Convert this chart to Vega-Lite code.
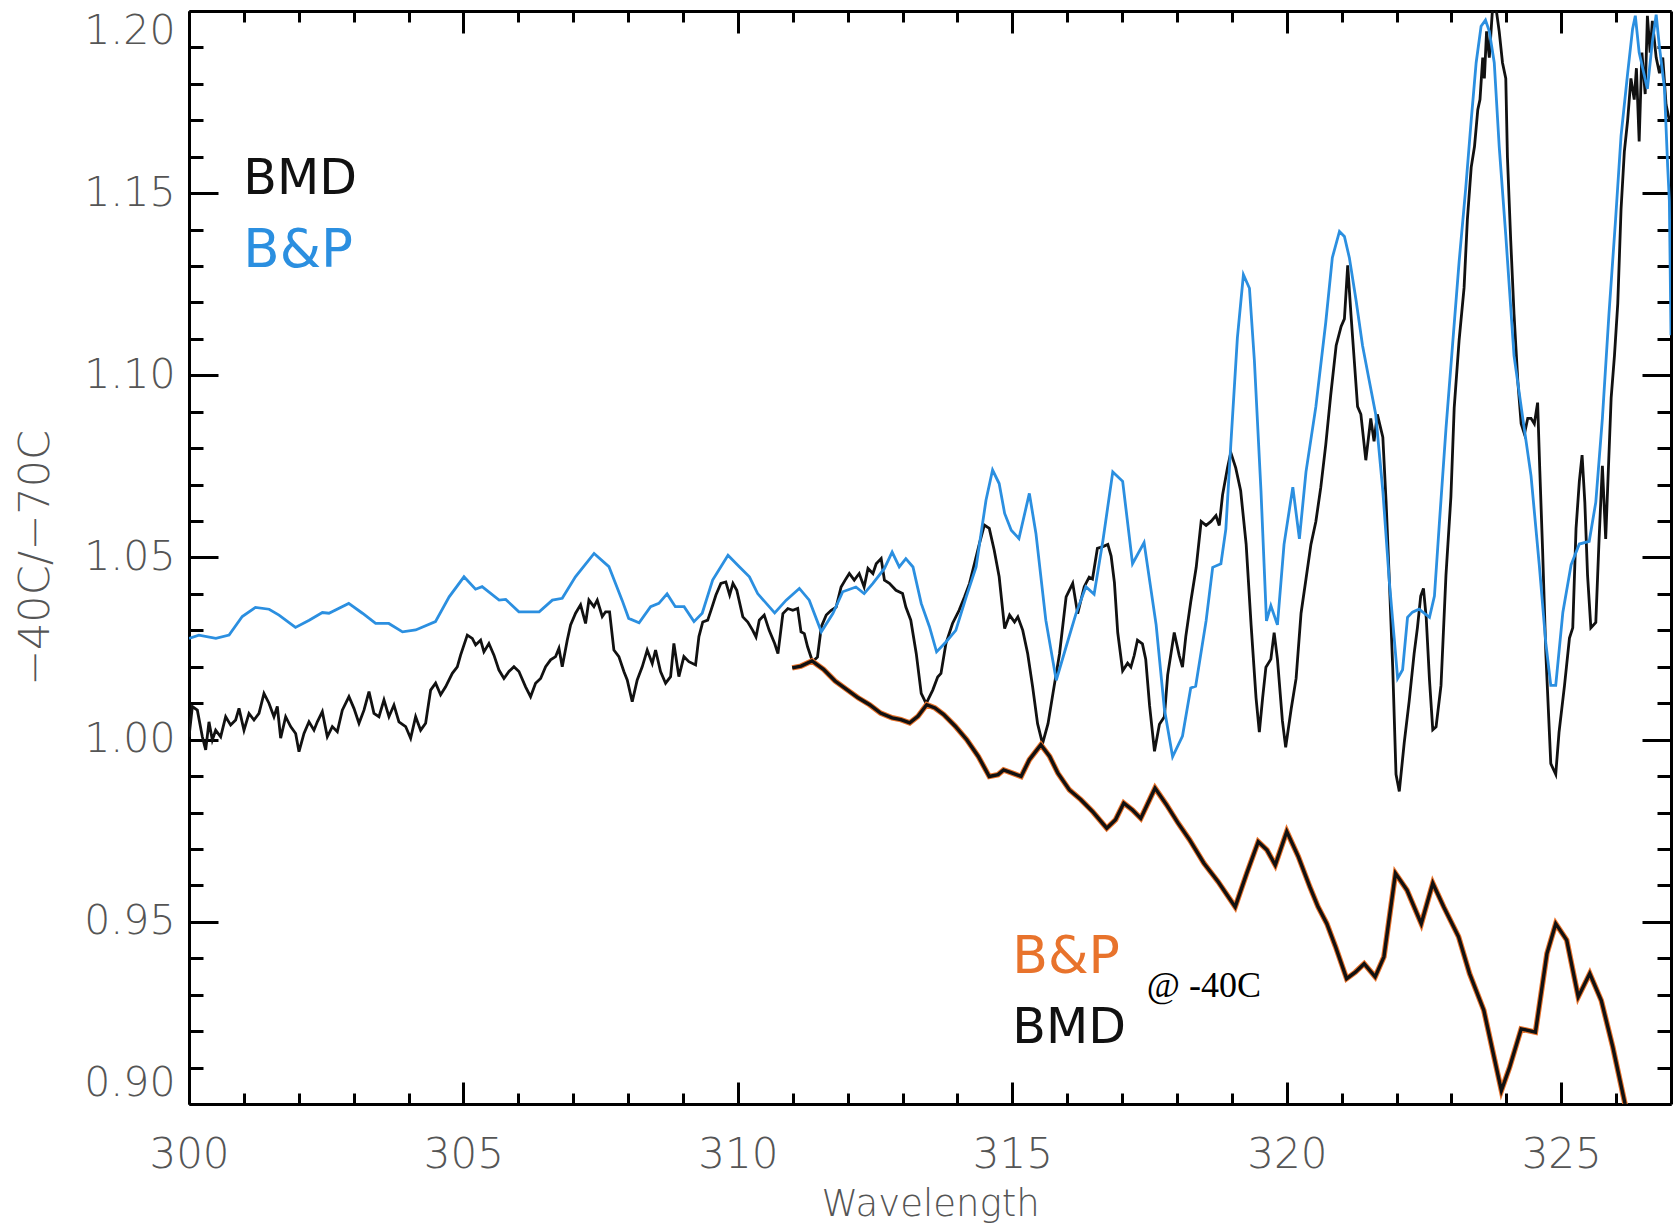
{
  "$schema": "https://vega.github.io/schema/vega-lite/v6.json",
  "autosize": "none",
  "padding": {"left": 189, "top": 11, "right": 4, "bottom": 126},
  "width": 1482,
  "height": 1093,
  "background": "white",
  "config": {"view": {"stroke": null}, "axis": {"grid": false}},
  "datasets": {
    "bmd": [
      {"x":300.000,"y":1.0008},{"x":300.061,"y":1.0091},{"x":300.152,"y":1.0081},{"x":300.243,"y":1.0008},{"x":300.304,"y":0.9972},{"x":300.364,"y":1.0049},{"x":300.425,"y":0.9999},{"x":300.486,"y":1.0026},{"x":300.577,"y":1.0008},{"x":300.668,"y":1.0063},{"x":300.759,"y":1.0040},{"x":300.850,"y":1.0054},{"x":300.911,"y":1.0086},{"x":301.002,"y":1.0026},{"x":301.093,"y":1.0072},{"x":301.184,"y":1.0054},{"x":301.275,"y":1.0072},{"x":301.366,"y":1.0127},{"x":301.457,"y":1.0100},{"x":301.548,"y":1.0063},{"x":301.609,"y":1.0091},{"x":301.670,"y":1.0004},{"x":301.761,"y":1.0063},{"x":301.852,"y":1.0036},{"x":301.943,"y":1.0017},{"x":302.004,"y":0.9967},{"x":302.095,"y":1.0017},{"x":302.186,"y":1.0049},{"x":302.277,"y":1.0026},{"x":302.338,"y":1.0049},{"x":302.429,"y":1.0077},{"x":302.520,"y":1.0008},{"x":302.611,"y":1.0036},{"x":302.702,"y":1.0022},{"x":302.793,"y":1.0081},{"x":302.914,"y":1.0118},{"x":303.005,"y":1.0086},{"x":303.097,"y":1.0045},{"x":303.188,"y":1.0081},{"x":303.279,"y":1.0132},{"x":303.370,"y":1.0072},{"x":303.461,"y":1.0063},{"x":303.552,"y":1.0109},{"x":303.643,"y":1.0063},{"x":303.734,"y":1.0095},{"x":303.825,"y":1.0049},{"x":303.947,"y":1.0036},{"x":304.038,"y":1.0004},{"x":304.129,"y":1.0063},{"x":304.220,"y":1.0026},{"x":304.311,"y":1.0045},{"x":304.402,"y":1.0136},{"x":304.493,"y":1.0155},{"x":304.584,"y":1.0123},{"x":304.675,"y":1.0145},{"x":304.797,"y":1.0182},{"x":304.888,"y":1.0200},{"x":304.948,"y":1.0232},{"x":305.070,"y":1.0287},{"x":305.161,"y":1.0278},{"x":305.222,"y":1.0260},{"x":305.313,"y":1.0273},{"x":305.373,"y":1.0241},{"x":305.464,"y":1.0264},{"x":305.556,"y":1.0232},{"x":305.647,"y":1.0191},{"x":305.738,"y":1.0168},{"x":305.829,"y":1.0187},{"x":305.920,"y":1.0200},{"x":306.011,"y":1.0187},{"x":306.132,"y":1.0145},{"x":306.223,"y":1.0118},{"x":306.314,"y":1.0155},{"x":306.406,"y":1.0168},{"x":306.497,"y":1.0200},{"x":306.588,"y":1.0219},{"x":306.679,"y":1.0228},{"x":306.740,"y":1.0251},{"x":306.800,"y":1.0200},{"x":306.891,"y":1.0273},{"x":306.952,"y":1.0315},{"x":307.043,"y":1.0347},{"x":307.134,"y":1.0370},{"x":307.225,"y":1.0319},{"x":307.286,"y":1.0383},{"x":307.377,"y":1.0365},{"x":307.438,"y":1.0383},{"x":307.529,"y":1.0338},{"x":307.590,"y":1.0351},{"x":307.662,"y":1.0351},{"x":307.741,"y":1.0246},{"x":307.832,"y":1.0228},{"x":307.923,"y":1.0187},{"x":307.984,"y":1.0164},{"x":308.075,"y":1.0104},{"x":308.166,"y":1.0164},{"x":308.257,"y":1.0200},{"x":308.348,"y":1.0246},{"x":308.440,"y":1.0209},{"x":308.500,"y":1.0246},{"x":308.591,"y":1.0187},{"x":308.683,"y":1.0155},{"x":308.774,"y":1.0173},{"x":308.834,"y":1.0264},{"x":308.925,"y":1.0173},{"x":309.016,"y":1.0228},{"x":309.107,"y":1.0214},{"x":309.229,"y":1.0205},{"x":309.290,"y":1.0283},
      {"x":309.36,"y":1.0323},{"x":309.45,"y":1.0328},{"x":309.51,"y":1.0355},{"x":309.60,"y":1.0397},{"x":309.69,"y":1.0429},{"x":309.78,"y":1.0433},{"x":309.85,"y":1.0397},{"x":309.91,"y":1.0429},{"x":309.98,"y":1.0410},{"x":310.09,"y":1.0337},{"x":310.18,"y":1.0323},{"x":310.27,"y":1.0300},{"x":310.33,"y":1.0282},{"x":310.39,"y":1.0328},{"x":310.48,"y":1.0342},{"x":310.57,"y":1.0300},{"x":310.67,"y":1.0264},{"x":310.73,"y":1.0236},{"x":310.82,"y":1.0346},{"x":310.91,"y":1.0360},{"x":311.00,"y":1.0355},{"x":311.09,"y":1.0360},{"x":311.15,"y":1.0296},{"x":311.21,"y":1.0291},{"x":311.27,"y":1.0255},{"x":311.36,"y":1.0214},{"x":311.45,"y":1.0227},{"x":311.52,"y":1.0310},{"x":311.61,"y":1.0342},{"x":311.70,"y":1.0355},{"x":311.79,"y":1.0364},{"x":311.88,"y":1.0419},{"x":311.97,"y":1.0442},{"x":312.03,"y":1.0456},{"x":312.12,"y":1.0438},{"x":312.21,"y":1.0456},{"x":312.30,"y":1.0419},{"x":312.37,"y":1.0470},{"x":312.46,"y":1.0456},{"x":312.52,"y":1.0483},{"x":312.61,"y":1.0497},{"x":312.67,"y":1.0438},{"x":312.76,"y":1.0429},{"x":312.88,"y":1.0410},{"x":313.00,"y":1.0401},{"x":313.06,"y":1.0364},{"x":313.15,"y":1.0328},{"x":313.25,"y":1.0236},{"x":313.34,"y":1.0127},{"x":313.43,"y":1.0099},{"x":313.55,"y":1.0136},{"x":313.64,"y":1.0172},{"x":313.70,"y":1.0182},{"x":313.79,"y":1.0264},{"x":313.91,"y":1.0319},{"x":314.03,"y":1.0355},{"x":314.13,"y":1.0392},{"x":314.22,"y":1.0429},{"x":314.31,"y":1.0483},{"x":314.40,"y":1.0538},{"x":314.49,"y":1.0589},{"x":314.58,"y":1.0580},{"x":314.67,"y":1.0520},{"x":314.76,"y":1.0447},{"x":314.86,"y":1.0305},{"x":314.95,"y":1.0342},{"x":315.04,"y":1.0323},{"x":315.10,"y":1.0337},{"x":315.19,"y":1.0300},{"x":315.28,"y":1.0236},{"x":315.37,"y":1.0145},{"x":315.46,"y":1.0044},{"x":315.55,"y":0.9989},{"x":315.65,"y":1.0044},{"x":315.74,"y":1.0127},{"x":315.86,"y":1.0236},{"x":315.98,"y":1.0392},{"x":316.10,"y":1.0429},{"x":316.19,"y":1.0346},
      {"x":316.31,"y":1.0420},{"x":316.40,"y":1.0446},{"x":316.46,"y":1.0441},{"x":316.55,"y":1.0525},{"x":316.65,"y":1.0530},{"x":316.74,"y":1.0536},{"x":316.80,"y":1.0504},{"x":316.86,"y":1.0431},{"x":316.92,"y":1.0294},{"x":317.01,"y":1.0189},{"x":317.10,"y":1.0210},{"x":317.16,"y":1.0199},{"x":317.22,"y":1.0231},{"x":317.28,"y":1.0273},{"x":317.37,"y":1.0263},{"x":317.43,"y":1.0221},{"x":317.50,"y":1.0094},{"x":317.59,"y":0.9968},{"x":317.68,"y":1.0042},{"x":317.77,"y":1.0063},{"x":317.83,"y":1.0178},{"x":317.95,"y":1.0294},{"x":318.04,"y":1.0231},{"x":318.10,"y":1.0199},{"x":318.16,"y":1.0283},{"x":318.25,"y":1.0378},{"x":318.35,"y":1.0473},{"x":318.44,"y":1.0599},{"x":318.53,"y":1.0588},{"x":318.62,"y":1.0599},{"x":318.71,"y":1.0615},{"x":318.77,"y":1.0588},{"x":318.83,"y":1.0672},{"x":318.92,"y":1.0746},{"x":318.98,"y":1.0788},{"x":319.07,"y":1.0746},{"x":319.16,"y":1.0683},{"x":319.26,"y":1.0536},{"x":319.35,"y":1.0315},{"x":319.44,"y":1.0115},{"x":319.50,"y":1.0021},{"x":319.56,"y":1.0115},{"x":319.62,"y":1.0199},{"x":319.71,"y":1.0221},{"x":319.77,"y":1.0294},{"x":319.83,"y":1.0221},{"x":319.92,"y":1.0052},{"x":319.98,"y":0.9979},{"x":320.08,"y":1.0084},{"x":320.17,"y":1.0168},{"x":320.26,"y":1.0347},{"x":320.35,"y":1.0441},{"x":320.44,"y":1.0536},{"x":320.53,"y":1.0599},{"x":320.62,"y":1.0693},{"x":320.71,"y":1.0809},{"x":320.80,"y":1.0945},{"x":320.90,"y":1.1082},{"x":320.99,"y":1.1134},{"x":321.05,"y":1.1155},{"x":321.11,"y":1.1302},{"x":321.17,"y":1.1166},{"x":321.23,"y":1.1040},{"x":321.29,"y":1.0914},{"x":321.35,"y":1.0893},{"x":321.44,"y":1.0767},{"x":321.53,"y":1.0882},{"x":321.59,"y":1.0819},{"x":321.65,"y":1.0893},{"x":321.75,"y":1.0830},{"x":321.81,"y":1.0651},{"x":321.87,"y":1.0431},{"x":321.93,"y":1.0199},{"x":321.99,"y":0.9905},{"x":322.05,"y":0.9858},
      {"x":322.14,"y":0.9992},{"x":322.23,"y":1.0106},{"x":322.32,"y":1.0236},{"x":322.38,"y":1.0307},{"x":322.44,"y":1.0394},{"x":322.49,"y":1.0415},{"x":322.54,"y":1.0336},{"x":322.60,"y":1.0164},{"x":322.66,"y":1.0027},{"x":322.72,"y":1.0035},{"x":322.81,"y":1.0149},{"x":322.90,"y":1.0451},{"x":322.99,"y":1.0666},{"x":323.05,"y":1.0910},{"x":323.14,"y":1.1097},{"x":323.23,"y":1.1240},{"x":323.29,"y":1.1427},{"x":323.36,"y":1.1571},{"x":323.42,"y":1.1628},{"x":323.48,"y":1.1729},{"x":323.52,"y":1.1757},{"x":323.57,"y":1.1872},{"x":323.60,"y":1.1815},{"x":323.64,"y":1.1944},{"x":323.69,"y":1.1872},{"x":323.75,"y":1.2010},{"x":323.81,"y":1.2010},{"x":323.87,"y":1.1944},{"x":323.93,"y":1.1858},{"x":323.99,"y":1.1815},{"x":324.02,"y":1.1599},{"x":324.08,"y":1.1370},{"x":324.14,"y":1.1169},{"x":324.21,"y":1.0982},{"x":324.27,"y":1.0867},{"x":324.33,"y":1.0839},{"x":324.39,"y":1.0882},{"x":324.45,"y":1.0882},{"x":324.51,"y":1.0867},{"x":324.57,"y":1.0925},{"x":324.61,"y":1.0738},{"x":324.66,"y":1.0523},{"x":324.72,"y":1.0236},{"x":324.81,"y":0.9934},{"x":324.90,"y":0.9905},{"x":324.96,"y":1.0020},{"x":325.06,"y":1.0149},{"x":325.15,"y":1.0279},{"x":325.21,"y":1.0307},{"x":325.27,"y":1.0580},{"x":325.33,"y":1.0709},{"x":325.38,"y":1.0781},{"x":325.43,"y":1.0652},{"x":325.48,"y":1.0451},{"x":325.54,"y":1.0307},{"x":325.63,"y":1.0322},{"x":325.69,"y":1.0551},{"x":325.75,"y":1.0752},{"x":325.81,"y":1.0551},{"x":325.91,"y":1.0939},{"x":325.97,"y":1.1054},{"x":326.03,"y":1.1197},{"x":326.09,"y":1.1456},{"x":326.15,"y":1.1614},{"x":326.21,"y":1.1700},{"x":326.27,"y":1.1815},{"x":326.33,"y":1.1757},{"x":326.37,"y":1.1843},{"x":326.42,"y":1.1642},{"x":326.47,"y":1.1886},{"x":326.53,"y":1.1772},{"x":326.57,"y":1.1987},{"x":326.62,"y":1.1886},{"x":326.66,"y":1.1973},{"x":326.73,"y":1.1872},{"x":326.79,"y":1.1829},{"x":326.85,"y":1.1872},{"x":326.91,"y":1.1743},{"x":326.97,"y":1.1700}
    ],
    "bp": [
      {"x":300.00,"y":1.0278},{"x":300.18,"y":1.0287},{"x":300.49,"y":1.0278},{"x":300.73,"y":1.0287},{"x":300.97,"y":1.0338},{"x":301.21,"y":1.0363},{"x":301.46,"y":1.0358},{"x":301.64,"y":1.0342},{"x":301.94,"y":1.0308},{"x":302.19,"y":1.0328},{"x":302.43,"y":1.0349},{"x":302.55,"y":1.0347},{"x":302.91,"y":1.0374},{"x":303.16,"y":1.0347},{"x":303.40,"y":1.0319},{"x":303.64,"y":1.0319},{"x":303.89,"y":1.0296},{"x":304.13,"y":1.0301},{"x":304.49,"y":1.0324},{"x":304.74,"y":1.0392},{"x":305.01,"y":1.0447},{"x":305.22,"y":1.0413},{"x":305.34,"y":1.0420},{"x":305.65,"y":1.0383},{"x":305.77,"y":1.0385},{"x":306.01,"y":1.0351},{"x":306.38,"y":1.0351},{"x":306.62,"y":1.0383},{"x":306.80,"y":1.0388},{"x":307.04,"y":1.0447},{"x":307.38,"y":1.0511},{"x":307.65,"y":1.0475},{"x":307.89,"y":1.0383},{"x":308.01,"y":1.0333},{"x":308.20,"y":1.0321},{"x":308.41,"y":1.0365},{"x":308.56,"y":1.0374},{"x":308.71,"y":1.0400},{"x":308.86,"y":1.0365},{"x":309.02,"y":1.0365},{"x":309.20,"y":1.0324},{"x":309.35,"y":1.0347},
      {"x":309.54,"y":1.0438},{"x":309.82,"y":1.0506},{"x":310.03,"y":1.0474},{"x":310.21,"y":1.0447},{"x":310.36,"y":1.0401},{"x":310.67,"y":1.0348},{"x":310.88,"y":1.0383},{"x":311.12,"y":1.0415},{"x":311.30,"y":1.0383},{"x":311.52,"y":1.0296},{"x":311.73,"y":1.0346},{"x":311.91,"y":1.0406},{"x":312.15,"y":1.0419},{"x":312.30,"y":1.0401},{"x":312.46,"y":1.0429},{"x":312.67,"y":1.0470},{"x":312.81,"y":1.0515},{"x":312.94,"y":1.0474},{"x":313.06,"y":1.0497},{"x":313.19,"y":1.0474},{"x":313.34,"y":1.0374},{"x":313.49,"y":1.0310},{"x":313.62,"y":1.0241},{"x":313.79,"y":1.0268},{"x":313.97,"y":1.0300},{"x":314.16,"y":1.0392},{"x":314.34,"y":1.0474},{"x":314.52,"y":1.0657},{"x":314.64,"y":1.0740},{"x":314.76,"y":1.0703},{"x":314.86,"y":1.0621},{"x":314.98,"y":1.0575},{"x":315.12,"y":1.0552},{"x":315.31,"y":1.0676},{"x":315.43,"y":1.0566},{"x":315.61,"y":1.0328},{"x":315.80,"y":1.0163},{"x":315.98,"y":1.0255},{"x":316.16,"y":1.0346},
      {"x":316.34,"y":1.0420},{"x":316.49,"y":1.0399},{"x":316.65,"y":1.0546},{"x":316.83,"y":1.0735},{"x":317.01,"y":1.0709},{"x":317.19,"y":1.0483},{"x":317.40,"y":1.0541},{"x":317.62,"y":1.0315},{"x":317.77,"y":1.0084},{"x":317.92,"y":0.9953},{"x":318.10,"y":1.0010},{"x":318.25,"y":1.0142},{"x":318.34,"y":1.0147},{"x":318.53,"y":1.0326},{"x":318.65,"y":1.0473},{"x":318.80,"y":1.0483},{"x":318.89,"y":1.0578},{"x":318.98,"y":1.0809},{"x":319.10,"y":1.1103},{"x":319.21,"y":1.1276},{"x":319.32,"y":1.1239},{"x":319.41,"y":1.1040},{"x":319.53,"y":1.0683},{"x":319.63,"y":1.0326},{"x":319.71,"y":1.0368},{"x":319.83,"y":1.0315},{"x":319.95,"y":1.0536},{"x":320.11,"y":1.0693},{"x":320.23,"y":1.0551},{"x":320.35,"y":1.0735},{"x":320.53,"y":1.0914},{"x":320.71,"y":1.1145},{"x":320.83,"y":1.1323},{"x":320.96,"y":1.1395},{"x":321.05,"y":1.1381},{"x":321.14,"y":1.1323},{"x":321.26,"y":1.1208},{"x":321.38,"y":1.1082},{"x":321.50,"y":1.0987},{"x":321.62,"y":1.0893},{"x":321.75,"y":1.0683},{"x":321.87,"y":1.0431},{"x":322.02,"y":1.0168},
      {"x":322.11,"y":1.0192},{"x":322.20,"y":1.0336},{"x":322.29,"y":1.0350},{"x":322.41,"y":1.0358},{"x":322.60,"y":1.0336},{"x":322.69,"y":1.0394},{"x":322.78,"y":1.0594},{"x":322.90,"y":1.0853},{"x":323.02,"y":1.1083},{"x":323.14,"y":1.1312},{"x":323.26,"y":1.1513},{"x":323.36,"y":1.1700},{"x":323.45,"y":1.1858},{"x":323.54,"y":1.1958},{"x":323.62,"y":1.1975},{"x":323.69,"y":1.1944},{"x":323.78,"y":1.1858},{"x":323.87,"y":1.1628},{"x":323.99,"y":1.1384},{"x":324.14,"y":1.1054},{"x":324.30,"y":1.0882},{"x":324.45,"y":1.0724},{"x":324.60,"y":1.0480},{"x":324.72,"y":1.0264},{"x":324.81,"y":1.0149},{"x":324.90,"y":1.0149},{"x":325.03,"y":1.0350},{"x":325.18,"y":1.0480},{"x":325.33,"y":1.0537},{"x":325.51,"y":1.0544},{"x":325.63,"y":1.0652},{"x":325.75,"y":1.0882},{"x":325.87,"y":1.1169},{"x":325.99,"y":1.1427},{"x":326.09,"y":1.1657},{"x":326.21,"y":1.1829},{"x":326.30,"y":1.1951},{"x":326.35,"y":1.1987},{"x":326.42,"y":1.1886},{"x":326.57,"y":1.1786},{"x":326.66,"y":1.1915},{"x":326.73,"y":1.1990},{"x":326.79,"y":1.1901},{"x":326.88,"y":1.1790},{"x":326.94,"y":1.1571},{"x":326.97,"y":1.1480},{"x":327.00,"y":1.1110}
    ],
    "low": [
      {"x":310.99,"y":1.0197},{"x":311.15,"y":1.0202},{"x":311.35,"y":1.0216},{"x":311.56,"y":1.0193},{"x":311.77,"y":1.0161},{"x":311.98,"y":1.0138},{"x":312.19,"y":1.0115},{"x":312.40,"y":1.0096},{"x":312.60,"y":1.0073},{"x":312.81,"y":1.0060},{"x":312.97,"y":1.0055},{"x":313.13,"y":1.0046},{"x":313.28,"y":1.0064},{"x":313.44,"y":1.0096},{"x":313.59,"y":1.0087},{"x":313.75,"y":1.0069},{"x":313.96,"y":1.0037},{"x":314.17,"y":1.0000},{"x":314.38,"y":0.9954},{"x":314.58,"y":0.9899},{"x":314.74,"y":0.9904},{"x":314.84,"y":0.9917},{"x":315.00,"y":0.9908},{"x":315.16,"y":0.9899},{"x":315.31,"y":0.9945},{"x":315.52,"y":0.9986},{"x":315.68,"y":0.9954},{"x":315.83,"y":0.9908},{"x":316.04,"y":0.9862},{"x":316.25,"y":0.9835},{"x":316.46,"y":0.9803},{"x":316.72,"y":0.9757},{"x":316.88,"y":0.9780},{"x":317.03,"y":0.9826},{"x":317.19,"y":0.9807},{"x":317.34,"y":0.9784},{"x":317.50,"y":0.9835},{"x":317.60,"y":0.9867},{"x":317.81,"y":0.9821},{"x":318.02,"y":0.9771},{"x":318.23,"y":0.9725},{"x":318.49,"y":0.9661},{"x":318.75,"y":0.9610},{"x":319.06,"y":0.9541},{"x":319.27,"y":0.9633},{"x":319.48,"y":0.9720},{"x":319.64,"y":0.9697},{"x":319.79,"y":0.9656},{"x":320.00,"y":0.9748},{"x":320.21,"y":0.9679},{"x":320.42,"y":0.9596},{"x":320.57,"y":0.9541},{"x":320.73,"y":0.9495},{"x":320.89,"y":0.9431},{"x":321.09,"y":0.9344},{"x":321.25,"y":0.9362},{"x":321.41,"y":0.9385},{"x":321.61,"y":0.9349},{"x":321.77,"y":0.9404},{"x":321.98,"y":0.9633},{"x":322.19,"y":0.9587},{"x":322.45,"y":0.9495},{"x":322.66,"y":0.9606},{"x":322.86,"y":0.9541},{"x":323.13,"y":0.9459},{"x":323.33,"y":0.9358},{"x":323.59,"y":0.9257},{"x":323.91,"y":0.9037},{"x":324.06,"y":0.9101},{"x":324.27,"y":0.9206},{"x":324.53,"y":0.9197},{"x":324.74,"y":0.9413},{"x":324.90,"y":0.9495},{"x":325.10,"y":0.9450},{"x":325.31,"y":0.9294},{"x":325.52,"y":0.9358},{"x":325.73,"y":0.9284},{"x":325.94,"y":0.9156},{"x":326.15,"y":0.9009},{"x":326.22,"y":0.8960}
    ]
  },
  "layer": [
    {
      "data": {"name": "bmd"},
      "mark": {"type": "line", "color": "#111111", "strokeWidth": 2.8, "clip": true},
      "encoding": {
        "x": {"field": "x", "type": "quantitative", "scale": {"domain": [300, 327], "nice": false, "zero": false},
          "axis": {"orient": "bottom", "values": [301,302,303,304,306,307,308,309,311,312,313,314,316,317,318,319,321,322,323,324,326], "tickSize": -11, "tickWidth": 3, "tickColor": "black", "labels": false, "domain": false, "title": null}},
        "y": {"field": "y", "type": "quantitative", "scale": {"domain": [0.9, 1.2], "nice": false, "zero": false},
          "axis": {"orient": "left", "values": [0.91,0.92,0.93,0.94,0.96,0.97,0.98,0.99,1.01,1.02,1.03,1.04,1.06,1.07,1.08,1.09,1.11,1.12,1.13,1.14,1.16,1.17,1.18,1.19], "tickSize": -14, "tickWidth": 3, "tickColor": "black", "labels": false, "domain": false, "title": null}}
      }
    },
    {
      "data": {"name": "bp"},
      "mark": {"type": "line", "color": "#2b8fe0", "strokeWidth": 2.8, "clip": true},
      "encoding": {
        "x": {"field": "x", "type": "quantitative", "scale": {"domain": [300, 327], "nice": false, "zero": false},
          "axis": {"orient": "bottom", "values": [300,305,310,315,320,325], "format": "d", "tickSize": -22, "tickWidth": 3, "tickColor": "black", "domain": true, "domainWidth": 3, "domainColor": "black", "labelPadding": 52, "labelFlush": false, "labelFont": "DejaVu Sans", "labelFontSize": 42, "labelFontWeight": 300, "labelColor": "#555555", "title": "Wavelength", "titleFont": "DejaVu Sans", "titleFontSize": 37, "titleFontWeight": 300, "titleColor": "#555555", "titlePadding": 11}},
        "y": {"field": "y", "type": "quantitative", "scale": {"domain": [0.9, 1.2], "nice": false, "zero": false},
          "axis": {"orient": "left", "values": [0.9,0.95,1.0,1.05,1.1,1.15,1.2], "format": ".2f", "tickSize": -29, "tickWidth": 3, "tickColor": "black", "domain": true, "domainWidth": 3, "domainColor": "black", "labelPadding": 43, "labelFlush": true, "labelFont": "DejaVu Sans", "labelFontSize": 41, "labelFontWeight": 300, "labelColor": "#555555", "title": "−40C/−70C", "titleFont": "DejaVu Sans", "titleFontSize": 43, "titleFontWeight": 300, "titleColor": "#555555", "titlePadding": 26}}
      }
    },
    {
      "data": {"name": "low"},
      "mark": {"type": "line", "color": "#e8732c", "strokeWidth": 5.5, "clip": true},
      "encoding": {
        "x": {"field": "x", "type": "quantitative", "scale": {"domain": [300, 327], "nice": false, "zero": false},
          "axis": {"orient": "top", "values": [300,305,310,315,320,325], "tickSize": -22, "tickWidth": 3, "tickColor": "black", "labels": false, "domain": true, "domainWidth": 3, "domainColor": "black", "title": null}},
        "y": {"field": "y", "type": "quantitative", "scale": {"domain": [0.9, 1.2], "nice": false, "zero": false},
          "axis": {"orient": "right", "values": [0.9,0.95,1.0,1.05,1.1,1.15,1.2], "tickSize": -29, "tickWidth": 3, "tickColor": "black", "labels": false, "domain": true, "domainWidth": 3, "domainColor": "black", "title": null}}
      }
    },
    {
      "data": {"name": "low"},
      "mark": {"type": "line", "color": "#111111", "strokeWidth": 3.4, "clip": true},
      "encoding": {
        "x": {"field": "x", "type": "quantitative", "scale": {"domain": [300, 327], "nice": false, "zero": false},
          "axis": {"orient": "top", "values": [301,302,303,304,306,307,308,309,311,312,313,314,316,317,318,319,321,322,323,324,326], "tickSize": -11, "tickWidth": 3, "tickColor": "black", "labels": false, "domain": false, "title": null}},
        "y": {"field": "y", "type": "quantitative", "scale": {"domain": [0.9, 1.2], "nice": false, "zero": false},
          "axis": {"orient": "right", "values": [0.91,0.92,0.93,0.94,0.96,0.97,0.98,0.99,1.01,1.02,1.03,1.04,1.06,1.07,1.08,1.09,1.11,1.12,1.13,1.14,1.16,1.17,1.18,1.19], "tickSize": -14, "tickWidth": 3, "tickColor": "black", "labels": false, "domain": false, "title": null}}
      }
    },
    {
      "data": {"values": [{}]},
      "mark": {"type": "text", "font": "DejaVu Sans", "fontSize": 49, "align": "left", "baseline": "alphabetic", "color": "#111111", "text": "BMD"},
      "encoding": {
        "x": {"datum": 300.99, "type": "quantitative", "scale": {"domain": [300, 327], "nice": false, "zero": false}, "axis": null},
        "y": {"datum": 1.1498, "type": "quantitative", "scale": {"domain": [0.9, 1.2], "nice": false, "zero": false}, "axis": null}
      }
    },
    {
      "data": {"values": [{}]},
      "mark": {"type": "text", "font": "DejaVu Sans", "fontSize": 53, "align": "left", "baseline": "alphabetic", "color": "#2b8fe0", "text": "B&P"},
      "encoding": {
        "x": {"datum": 300.99, "type": "quantitative", "scale": {"domain": [300, 327], "nice": false, "zero": false}, "axis": null},
        "y": {"datum": 1.1297, "type": "quantitative", "scale": {"domain": [0.9, 1.2], "nice": false, "zero": false}, "axis": null}
      }
    },
    {
      "data": {"values": [{}]},
      "mark": {"type": "text", "font": "DejaVu Sans", "fontSize": 52, "align": "left", "baseline": "alphabetic", "color": "#e8732c", "text": "B&P"},
      "encoding": {
        "x": {"datum": 315.0, "type": "quantitative", "scale": {"domain": [300, 327], "nice": false, "zero": false}, "axis": null},
        "y": {"datum": 0.9359, "type": "quantitative", "scale": {"domain": [0.9, 1.2], "nice": false, "zero": false}, "axis": null}
      }
    },
    {
      "data": {"values": [{}]},
      "mark": {"type": "text", "font": "DejaVu Sans", "fontSize": 49, "align": "left", "baseline": "alphabetic", "color": "#111111", "text": "BMD"},
      "encoding": {
        "x": {"datum": 315.0, "type": "quantitative", "scale": {"domain": [300, 327], "nice": false, "zero": false}, "axis": null},
        "y": {"datum": 0.9167, "type": "quantitative", "scale": {"domain": [0.9, 1.2], "nice": false, "zero": false}, "axis": null}
      }
    },
    {
      "data": {"values": [{}]},
      "mark": {"type": "text", "font": "Liberation Serif", "fontSize": 36, "align": "left", "baseline": "alphabetic", "color": "#000000", "text": "@ -40C"},
      "encoding": {
        "x": {"datum": 317.45, "type": "quantitative", "scale": {"domain": [300, 327], "nice": false, "zero": false}, "axis": null},
        "y": {"datum": 0.9293, "type": "quantitative", "scale": {"domain": [0.9, 1.2], "nice": false, "zero": false}, "axis": null}
      }
    }
  ],
  "resolve": {"axis": {"x": "independent", "y": "independent"}}
}
